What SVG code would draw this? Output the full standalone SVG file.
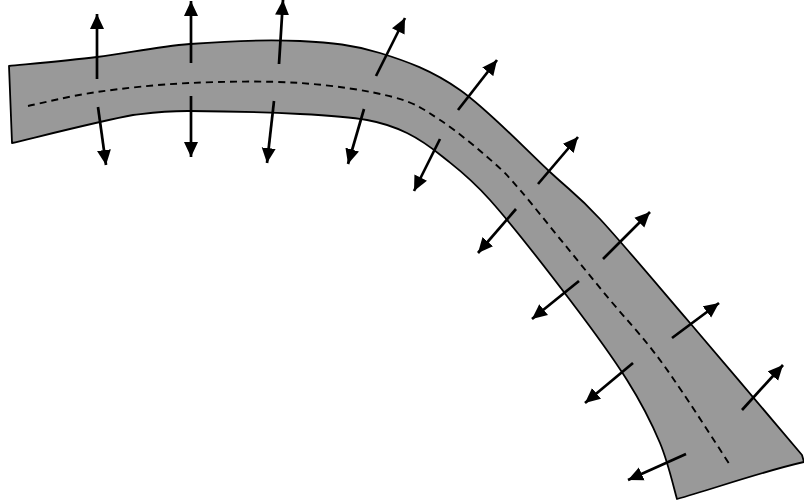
<svg xmlns="http://www.w3.org/2000/svg" width="804" height="503" viewBox="0 0 804 503">
<style>
.band{fill:#999999;stroke:#000;stroke-width:1.8;stroke-linejoin:round}
.center{fill:none;stroke:#000;stroke-width:1.9;stroke-dasharray:7,5}
.arr{stroke:#000;stroke-width:2.7;fill:none;marker-end:url(#ah)}
</style>
<defs>
<marker id="ah" markerUnits="userSpaceOnUse" markerWidth="16" markerHeight="15" refX="15" refY="7" orient="auto" viewBox="0 0 16 14">
<path d="M0,0 L15,7 L0,14 z" fill="#000"/>
</marker>
</defs>
<rect width="804" height="503" fill="#fff"/>
<g id="band">
<path class="band" d="M9,66 C23.7,64.5 66.8,60.7 97,57 C127.2,53.3 156.2,46.7 190,44 C223.8,41.3 268.3,39.5 300,41 C331.7,42.5 353.3,44.8 380,53 C406.7,61.2 431.7,70.2 460,90 C488.3,109.8 526.7,150.5 550,172 C573.3,193.5 576.7,193.8 600,219 C623.3,244.2 656.3,283.7 690,323 C723.7,362.3 783.3,433 802,455 L804,462 C760,472 710,490 677,499 C674.2,489.7 668.3,462.8 660,443 C651.7,423.2 642,403.8 627,380 C612,356.2 592.8,330 570,300 C547.2,270 511.2,223.8 490,200 C468.8,176.2 456.8,168.2 443,157 C429.2,145.8 419.7,139.2 407,133 C394.3,126.8 384.8,123.2 367,120 C349.2,116.8 329.5,115.5 300,114 C270.5,112.5 217.8,111.2 190,111 C162.2,110.8 150,113 133,115 C103.3,120.3 32.2,138.3 12,143 Z"/>
<path class="center" d="M28,106 C39.5,103.7 70,95.8 97,92 C124,88.2 156.2,84.5 190,83 C223.8,81.5 266.2,80.7 300,83 C333.8,85.3 369.7,90.8 393,97 C416.3,103.2 423.3,109.2 440,120 C456.7,130.8 479.7,150.3 493,162 C506.3,173.7 508,176.2 520,190 C532,203.8 550,226.7 565,245 C580,263.3 595.8,283 610,300 C624.2,317 637.8,331.5 650,347 C662.2,362.5 669.7,373.3 683,393 C696.3,412.7 722.2,453 730,465"/>
</g>
<g id="connectors">
<line class="arr" x1="97" y1="79" x2="97" y2="14"/>
<line class="arr" x1="191" y1="63" x2="191" y2="1"/>
<line class="arr" x1="279" y1="64" x2="283" y2="0"/>
<line class="arr" x1="376" y1="76" x2="405" y2="18"/>
<line class="arr" x1="458" y1="110" x2="497" y2="60"/>
<line class="arr" x1="538" y1="184" x2="578" y2="137"/>
<line class="arr" x1="603" y1="259" x2="650" y2="212"/>
<line class="arr" x1="672" y1="338" x2="719" y2="303"/>
<line class="arr" x1="742" y1="410" x2="783" y2="365"/>
<line class="arr" x1="98" y1="107" x2="106" y2="165"/>
<line class="arr" x1="191" y1="96" x2="191" y2="157"/>
<line class="arr" x1="274" y1="101" x2="267" y2="163"/>
<line class="arr" x1="364" y1="109" x2="348" y2="164"/>
<line class="arr" x1="440" y1="139" x2="414" y2="191"/>
<line class="arr" x1="516" y1="209" x2="478" y2="253"/>
<line class="arr" x1="579" y1="281" x2="532" y2="319"/>
<line class="arr" x1="633" y1="363" x2="585" y2="403"/>
<line class="arr" x1="686" y1="454" x2="628" y2="480"/>
</g>
</svg>
